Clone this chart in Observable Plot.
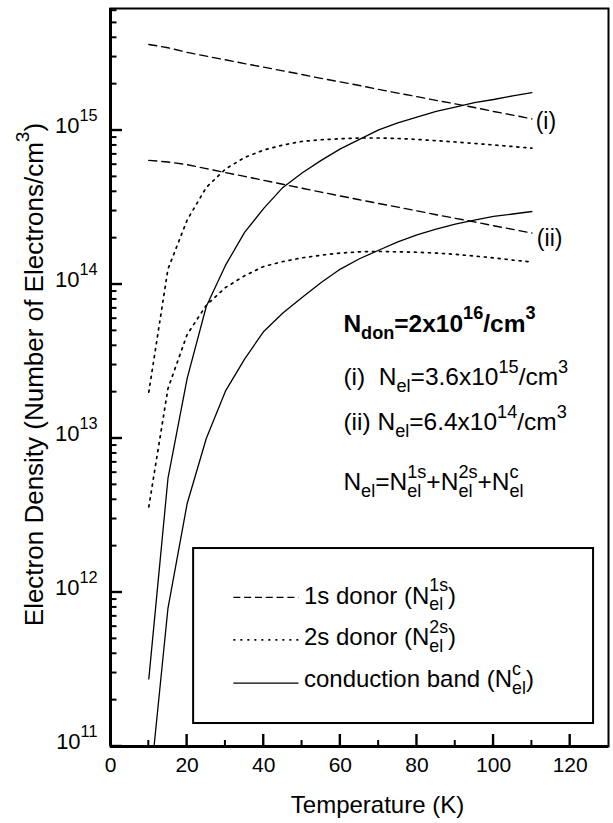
<!DOCTYPE html>
<html>
<head>
<meta charset="utf-8">
<script src="https://cdn.jsdelivr.net/npm/d3@7"></script>
<script src="https://cdn.jsdelivr.net/npm/@observablehq/plot@0.6"></script>
<style>
  html, body { margin: 0; padding: 0; background: #fff; }
  #chart svg { display: block; }
  #chart svg text { white-space: pre; }
</style>
</head>
<body>
<div id="chart"></div>
<script>
// ---------- data ----------
const temperature = [10, 15, 20, 25, 30, 35, 40, 45, 50, 55, 60, 65, 70, 75, 80, 85, 90, 95, 100, 105, 110];

// case (i): N_el = 3.6e15 /cm^3
const n1s_i = [3.62e15, 3.45e15, 3.22e15, 3.04e15, 2.88e15, 2.72e15, 2.58e15, 2.44e15, 2.31e15, 2.18e15, 2.07e15, 1.96e15, 1.85e15, 1.75e15, 1.66e15, 1.57e15, 1.49e15, 1.41e15, 1.33e15, 1.26e15, 1.19e15];
const n2s_i = [2.0e13, 1.26e14, 2.62e14, 4.27e14, 5.62e14, 6.68e14, 7.47e14, 8.05e14, 8.5e14, 8.71e14, 8.84e14, 8.94e14, 8.94e14, 8.88e14, 8.75e14, 8.59e14, 8.42e14, 8.24e14, 8.06e14, 7.87e14, 7.68e14];
const nc_i  = [2.75e11, 5.5e12, 2.45e13, 7.2e13, 1.33e14, 2.18e14, 3.12e14, 4.27e14, 5.3e14, 6.4e14, 7.6e14, 8.75e14, 1.01e15, 1.12e15, 1.22e15, 1.33e15, 1.42e15, 1.52e15, 1.59e15, 1.68e15, 1.76e15];

// case (ii): N_el = 6.4e14 /cm^3
const n1s_ii = [6.40e14, 6.25e14, 6.00e14, 5.66e14, 5.33e14, 5.04e14, 4.75e14, 4.48e14, 4.22e14, 3.98e14, 3.76e14, 3.55e14, 3.36e14, 3.18e14, 3.01e14, 2.84e14, 2.69e14, 2.55e14, 2.41e14, 2.28e14, 2.16e14];
const n2s_ii = [3.6e12, 2.11e13, 4.73e13, 7.33e13, 9.55e13, 1.14e14, 1.31e14, 1.41e14, 1.49e14, 1.55e14, 1.60e14, 1.63e14, 1.64e14, 1.63e14, 1.62e14, 1.60e14, 1.57e14, 1.53e14, 1.49e14, 1.44e14, 1.40e14];
const nc_ii  = [4.6e10, 7.9e11, 3.77e12, 1.0e13, 2.03e13, 3.28e13, 4.96e13, 6.53e13, 8.24e13, 1.03e14, 1.26e14, 1.47e14, 1.67e14, 1.89e14, 2.10e14, 2.29e14, 2.47e14, 2.62e14, 2.77e14, 2.87e14, 2.98e14];

// ticks
const xTickValues = [0, 20, 40, 60, 80, 100, 120];
const xMinorTicks = [10, 30, 50, 70, 90, 110];
const yMajorTicks = [1e11, 1e12, 1e13, 1e14, 1e15];
const yMinorTicks = [11, 12, 13, 14, 15].flatMap(e => [2,3,4,5,6,7,8,9].map(m => m * 10 ** e)).filter(v => v < 6.1e15);

// texts
const xTitle = "Temperature (K)";
const yTitle = "Electron Density (Number of Electrons/cm^{3})";
const curveLabels = [
  {label: "(i)", T: 111, n: 1.02e15},
  {label: "(ii)", T: 111.3, n: 1.77e14}
];
const donorLine = [{label: "N_{don}=2x10^{16}/cm^{3}", T: 60.8, n: 4.9e13}];
const infoLines = [
  {label: "(i)  N_{el}=3.6x10^{15}/cm^{3}", T: 60.8, n: 2.21e13},
  {label: "(ii) N_{el}=6.4x10^{14}/cm^{3}", T: 60.8, n: 1.13e13},
  {label: "N_{el}=N_{el}^{1s}+N_{el}^{2s}+N_{el}^{c}", T: 60.8, n: 4.6e12}
];
const legendBox = [{x1: 21.7, x2: 126.1, y1: 1.41e11, y2: 1.93e12}];
const legendEntries = [
  {kind: "1s", label: "1s donor (N_{el}^{1s})", lineY: 9.3e11, textY: 8.45e11},
  {kind: "2s", label: "2s donor (N_{el}^{2s})", lineY: 4.93e11, textY: 4.53e11},
  {kind: "c", label: "conduction band (N_{el}^{c})", lineY: 2.58e11, textY: 2.43e11}
];
const legendLineX = {x1: 32.2, x2: 49.2};
const legendTextX = 50.5;

// ---------- build table ----------
const seriesList = [
  {kind: "1s", caseId: "i", values: n1s_i},
  {kind: "2s", caseId: "i", values: n2s_i},
  {kind: "c", caseId: "i", values: nc_i},
  {kind: "1s", caseId: "ii", values: n1s_ii},
  {kind: "2s", caseId: "ii", values: n2s_ii},
  {kind: "c", caseId: "ii", values: nc_ii}
];
const rows = [];
for (const s of seriesList) s.values.forEach((v, i) => rows.push({T: temperature[i], n: v, kind: s.kind, caseId: s.caseId}));

const styles = {
  "1s": {dash: "8,5", legendDash: "7,3.8", w: 1.4},
  "2s": {dash: "2,5", legendDash: "2,5", w: 1.7},
  "c":  {dash: null, legendDash: null, w: 1.3}
};

// ---------- layout ----------
const W = 613, H = 823;
const M = {top: 8, right: 5, bottom: 77, left: 110};
const xDomain = [0, 130];
const yDomain = [1e11, 6.2e15];
const font = "'Liberation Sans', Arial, Helvetica, sans-serif";

const lineMarks = Object.entries(styles).map(([kind, st]) =>
  Plot.line(rows.filter(d => d.kind === kind), {
    x: "T", y: "n", z: "caseId", stroke: "black", strokeWidth: st.w,
    strokeDasharray: st.dash ?? undefined, clip: true
  })
);

const legendLineMarks = legendEntries.map(e =>
  Plot.ruleY([e], {y: "lineY", x1: () => legendLineX.x1, x2: () => legendLineX.x2,
    stroke: "black", strokeWidth: styles[e.kind].w, strokeDasharray: styles[e.kind].legendDash ?? undefined})
);

const chart = Plot.plot({
  width: W, height: H,
  marginTop: M.top, marginRight: M.right, marginBottom: M.bottom, marginLeft: M.left,
  style: {fontFamily: font, background: "white", color: "black"},
  x: {domain: xDomain, label: null},
  y: {type: "log", domain: yDomain, label: null},
  marks: [
    ...lineMarks,
    Plot.rect(legendBox, {x1: "x1", x2: "x2", y1: "y1", y2: "y2", fill: "white", stroke: "black", strokeWidth: 2}),
    ...legendLineMarks,
    Plot.text(legendEntries, {x: () => legendTextX, y: "textY", text: "label", textAnchor: "start", lineAnchor: "bottom", fontSize: 24, fill: "black", ariaLabel: "legend-text"}),
    Plot.text(curveLabels, {x: "T", y: "n", text: "label", textAnchor: "start", lineAnchor: "bottom", fontSize: 23, fill: "black", ariaLabel: "curve-label"}),
    Plot.text(donorLine, {x: "T", y: "n", text: "label", textAnchor: "start", lineAnchor: "bottom", fontSize: 24.5, fontWeight: "bold", fill: "black", ariaLabel: "wide-bold"}),
    Plot.text(infoLines, {x: "T", y: "n", text: "label", textAnchor: "start", lineAnchor: "bottom", fontSize: 24.5, fill: "black", ariaLabel: "wide-text"}),
    Plot.frame({stroke: "black", strokeWidth: 2}),
    Plot.ruleX([0], {stroke: "black", strokeWidth: 3}),
    Plot.ruleY([1e11], {stroke: "black", strokeWidth: 3}),
    Plot.axisY(yMajorTicks, {tickSize: 0, tickPadding: 13, fontSize: 22, dy: -5, label: null,
      tickFormat: d => `10^{${Math.round(Math.log10(d))}}`}),
    Plot.axisX(xTickValues, {tickSize: 0, tickPadding: 11, fontSize: 21, label: null}),
    Plot.text([xTitle], {frameAnchor: "bottom", text: d => d, textAnchor: "middle", dx: 18, dy: 66, lineAnchor: "bottom", fontSize: 24, fill: "black", ariaLabel: "x-title"}),
    Plot.text([yTitle], {frameAnchor: "left", text: d => d, textAnchor: "middle", rotate: -90, dx: -68, dy: -3, lineAnchor: "bottom", fontSize: 26, fill: "black", ariaLabel: "y-title"})
  ]
});

document.getElementById("chart").append(chart);
const svg = chart.tagName.toLowerCase() === "svg" ? chart : chart.querySelector("svg");

// ---------- inward ticks, placed through the chart's own scales, appended on top ----------
const sx = chart.scale("x"), sy = chart.scale("y");
const x0 = sx.apply(xDomain[0]), yBase = sy.apply(yDomain[0]);
const tickG = d3.select(svg).append("g").attr("aria-label", "inward ticks").attr("stroke", "black");
const addY = (vals, len, w) => tickG.selectAll(null).data(vals).join("line")
  .attr("x1", x0).attr("x2", x0 + len).attr("y1", d => sy.apply(d)).attr("y2", d => sy.apply(d)).attr("stroke-width", w);
const addX = (vals, len, w) => tickG.selectAll(null).data(vals).join("line")
  .attr("x1", d => sx.apply(d)).attr("x2", d => sx.apply(d)).attr("y1", yBase).attr("y2", yBase - len).attr("stroke-width", w);
addY(yMinorTicks, 6.5, 2);
addY(yMajorTicks, 12, 2.4);
addX(xMinorTicks, 6, 2);
addX(xTickValues.filter(v => v > 0), 12, 2.4);

// letter spacing
const spacing = {"wide-text": "1.2px", "wide-bold": "0.6px", "legend-text": "1.2px", "curve-label": "0.8px", "x-title": "1px", "y-title": "1.9px"};
for (const [k, v] of Object.entries(spacing))
  svg.querySelectorAll(`g[aria-label="${k}"] text`).forEach(t => t.style.letterSpacing = v);

// ---------- rich text: _{sub} and ^{sup}, stacked when adjacent ----------
function richify(root) {
  const NS = "http://www.w3.org/2000/svg";
  root.querySelectorAll("text").forEach(t => {
    const s = t.textContent;
    if (!/[_^]\{/.test(s)) return;
    const fs = parseFloat(getComputedStyle(t).fontSize) || 16;
    const small = fs * 0.74;
    const supShift = -fs * 0.52, subShift = fs * 0.27;
    const tokens = [];
    const re = /([_^])\{([^}]*)\}/g;
    let last = 0, m;
    while ((m = re.exec(s))) {
      if (m.index > last) tokens.push({type: "n", s: s.slice(last, m.index)});
      tokens.push({type: m[1] === "_" ? "sub" : "sup", s: m[2]});
      last = re.lastIndex;
    }
    if (last < s.length) tokens.push({type: "n", s: s.slice(last)});
    while (t.firstChild) t.removeChild(t.firstChild);
    let cur = 0, pendingDx = 0, prev = null;
    tokens.forEach(tok => {
      const ts = document.createElementNS(NS, "tspan");
      const target = tok.type === "sub" ? subShift : tok.type === "sup" ? supShift : 0;
      if (target - cur) ts.setAttribute("dy", (target - cur).toFixed(2));
      cur = target;
      if (tok.type !== "n") ts.setAttribute("font-size", small.toFixed(2));
      ts.textContent = tok.s;
      let dx = pendingDx; pendingDx = 0;
      const stacked = prev && prev.type !== "n" && tok.type !== "n" && prev.type !== tok.type;
      if (stacked) dx -= prev.w;
      if (dx) ts.setAttribute("dx", dx.toFixed(2));
      t.appendChild(ts);
      tok.w = ts.getComputedTextLength();
      if (stacked && prev.w > tok.w) pendingDx = prev.w - tok.w;
      prev = stacked ? {type: "n"} : tok;
    });
  });
}
richify(svg);
</script>
</body>
</html>
